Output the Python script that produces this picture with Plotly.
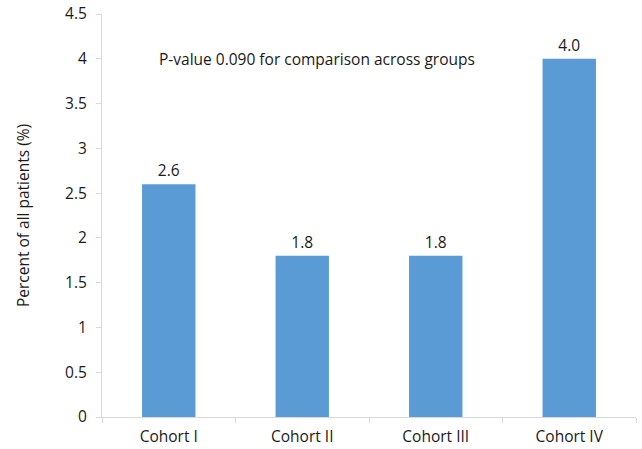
import plotly.graph_objects as go

cohorts = ["Cohort I", "Cohort II", "Cohort III", "Cohort IV"]
percent_patients = [2.6, 1.8, 1.8, 4.0]
y_ticks = [0, 0.5, 1, 1.5, 2, 2.5, 3, 3.5, 4, 4.5]
note = "P-value 0.090 for comparison across groups"

font = dict(family="Open Sans", size=15.5, color="#1a1a1a")

fig = go.Figure(
    go.Bar(
        x=cohorts,
        y=percent_patients,
        marker=dict(color="#5B9BD5", line=dict(width=0)),
        text=[f"{v:.1f}" for v in percent_patients],
        textposition="outside",
        textfont=font,
        cliponaxis=False,
    )
)

fig.add_annotation(
    x=0.402, xref="paper", y=4.0, yref="y",
    text=note, showarrow=False, font=font,
)

fig.update_layout(
    width=642, height=449,
    margin=dict(l=102, r=6, t=14, b=32),
    paper_bgcolor="white", plot_bgcolor="white",
    font=font,
    bargap=0.6,
    showlegend=False,
)
fig.update_xaxes(
    showline=True, linecolor="#D9D9D9", linewidth=1,
    ticks="outside", tickson="boundaries", ticklen=5, tickcolor="#D9D9D9",
    showgrid=False, tickfont=font, ticklabelstandoff=5, automargin=False,
)
fig.update_yaxes(
    range=[0, 4.5], tickvals=y_ticks, ticktext=[f"{v:g}" for v in y_ticks],
    showline=True, linecolor="#D9D9D9", linewidth=1,
    ticks="outside", ticklen=5, tickcolor="#D9D9D9",
    showgrid=False, zeroline=False, tickfont=font, ticklabelstandoff=6,
    title=dict(text="Percent of all patients (%)", font=font, standoff=31),
    automargin=False,
)

fig.write_html("out.html")
